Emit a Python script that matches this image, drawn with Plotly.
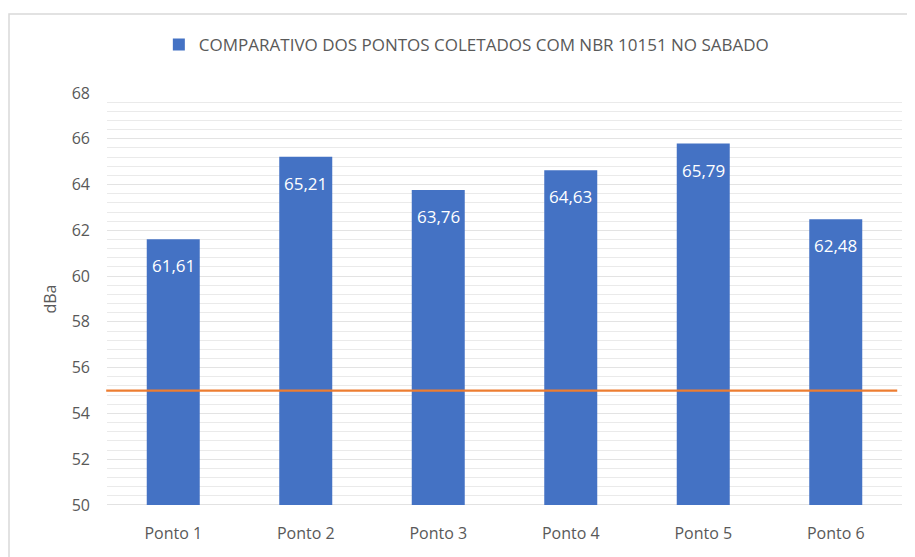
import plotly.graph_objects as go

categories = ["Ponto 1", "Ponto 2", "Ponto 3", "Ponto 4", "Ponto 5", "Ponto 6"]
values = [61.61, 65.21, 63.76, 64.63, 65.79, 62.48]
nbr_limit = 55
series_name = "COMPARATIVO DOS PONTOS COLETADOS COM NBR 10151 NO SABADO"
y_range = [50, 68]

FONT = "Open Sans"
GRAY = "#595959"
BLUE = "#4472C4"

labels = [f"{v:.2f}".replace(".", ",") for v in values]

fig = go.Figure()
fig.add_trace(go.Bar(
    x=categories, y=values, name=series_name,
    marker=dict(color=BLUE, line=dict(width=0)),
    hoverinfo="x+y",
))

for c, v, t in zip(categories, values, labels):
    fig.add_annotation(x=c, y=v, text=t, showarrow=False, yanchor="top",
                       yshift=-13, font=dict(family=FONT, size=17, color="white"))

fig.add_shape(type="line", xref="paper", yref="y", x0=-0.001, x1=0.994,
              y0=nbr_limit, y1=nbr_limit, line=dict(color="#ED7D31", width=2.2))

# outer chart border
fig.add_shape(type="rect", xref="paper", yref="paper",
              x0=(9 - 107) / 795, x1=(925 - 107) / 795,
              y0=(505 - 570) / 412, y1=(505 - 14) / 412,
              line=dict(color="#D9D9D9", width=1.5), layer="below")

fig.update_layout(
    width=907, height=549,
    margin=dict(l=99, r=13, t=85, b=52),
    paper_bgcolor="white", plot_bgcolor="white",
    bargap=0.6,
    separators=",.",
    font=dict(family=FONT, size=16, color=GRAY),
    showlegend=True,
    legend=dict(orientation="h", x=0.452, xanchor="center", y=(505 - 45) / 412,
                yanchor="middle", font=dict(family=FONT, size=17, color=GRAY),
                itemwidth=30),
    xaxis=dict(showgrid=False, showline=False, ticks="", ticklabelstandoff=17,
               tickfont=dict(family=FONT, size=16, color=GRAY)),
    yaxis=dict(range=y_range, dtick=2, tick0=50, showgrid=True, gridcolor="#E3E3E3",
               gridwidth=1, zeroline=False, showline=False, ticks="",
               ticklabelstandoff=16,
               tickfont=dict(family=FONT, size=16, color=GRAY),
               minor=dict(dtick=0.4, tick0=50, showgrid=True, gridcolor="#EAEAEA", gridwidth=1),
               title=dict(text="dBa", standoff=11, font=dict(family=FONT, size=16, color=GRAY))),
)
fig.add_shape(type="line", xref="paper", yref="y", x0=0, x1=1, y0=y_range[0], y1=y_range[0],
              line=dict(color="#D9D9D9", width=1.5), layer="below")

fig.write_html("out.html")
